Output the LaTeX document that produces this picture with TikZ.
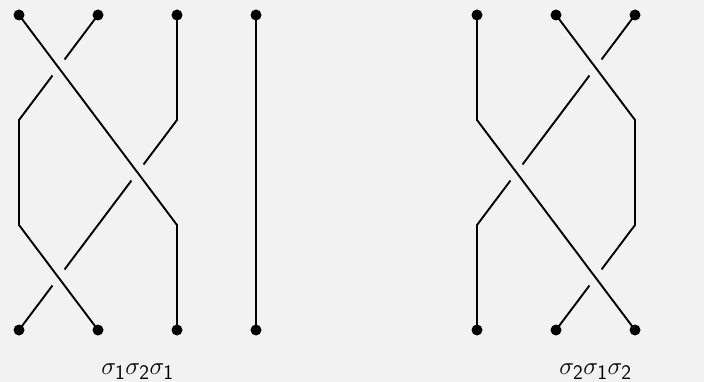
\documentclass[tikz,border=0pt]{standalone}
\usepackage{amsmath}
\definecolor{bgpaper}{HTML}{F2F2F2}
\tikzset{
  strand line/.style={line width=1.9pt, black},
  over strand/.style={strand line, preaction={draw=bgpaper, line width=19pt}},
  end dot/.style={circle, fill=black, inner sep=0pt, minimum size=11pt},
  braid label/.style={anchor=base, font=\fontsize{32}{38}\selectfont},
}

\begin{document}
\begin{tikzpicture}[x=1pt, y=-1pt]
  \fill[bgpaper] (0,0) rectangle (704,382);
  \useasboundingbox (0,0) rectangle (704,382);
  % end points of both braids
  \foreach \i/\x in {1/19, 2/98, 3/177, 4/256} {
    \coordinate (lt\i) at (\x,15);
    \coordinate (lb\i) at (\x,330);
  }
  \foreach \i/\x in {1/477, 2/556, 3/635} {
    \coordinate (rt\i) at (\x,15);
    \coordinate (rb\i) at (\x,330);
  }
  % left braid, drawn bottom strand first
  \draw[over strand] (lt3) -- (177,120) -- (98,225) -- (lb1);
  \draw[over strand] (lt2) -- (19,120) -- (19,225) -- (lb2);
  \draw[over strand] (lt1) -- (177,225) -- (lb3);
  \draw[strand line] (lt4) -- (lb4);
  % right braid
  \draw[over strand] (rt3) -- (477,225) -- (rb1);
  \draw[over strand] (rt2) -- (635,120) -- (635,225) -- (rb2);
  \draw[over strand] (rt1) -- (477,120) -- (rb3);
  % dots
  \foreach \i in {1,...,4} {
    \node[end dot] (ltd\i) at (lt\i) {};
    \node[end dot] (lbd\i) at (lb\i) {};
  }
  \foreach \i in {1,...,3} {
    \node[end dot] (rtd\i) at (rt\i) {};
    \node[end dot] (rbd\i) at (rb\i) {};
  }
  \node[braid label] (leftword) at (137.5,374) {$\sigma_{\mathsf{1}}\sigma_{\mathsf{2}}\sigma_{\mathsf{1}}$};
  \node[braid label] (rightword) at (595.5,374) {$\sigma_{\mathsf{2}}\sigma_{\mathsf{1}}\sigma_{\mathsf{2}}$};
\end{tikzpicture}
\end{document}
